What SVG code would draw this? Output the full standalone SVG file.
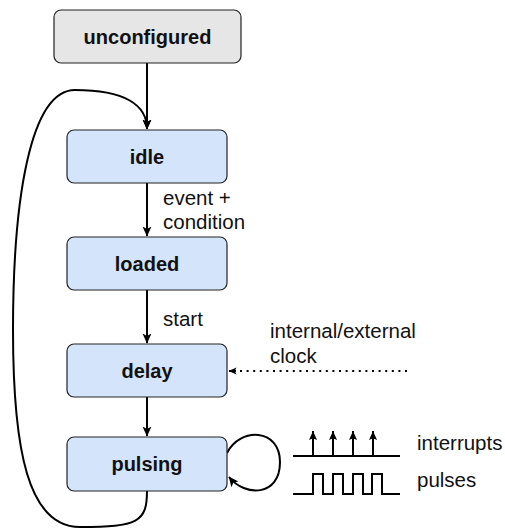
<svg xmlns="http://www.w3.org/2000/svg" width="505" height="529" viewBox="0 0 505 529">
<style>
.box{stroke:#222;stroke-width:1.2}
.blue{fill:#d4e4fb}
.gray{fill:#e6e6e6}
.nt{font-family:"Liberation Sans",Arial,sans-serif;font-size:20px;font-weight:bold;fill:#111;text-anchor:middle;dominant-baseline:central}
.lt{font-family:"Liberation Sans",Arial,sans-serif;font-size:20.5px;fill:#111}
.edge{fill:none;stroke:#000;stroke-width:2}
</style>
<defs>
<marker id="arr" viewBox="0 0 10 10" refX="9.5" refY="5" markerWidth="10" markerHeight="10" orient="auto" markerUnits="userSpaceOnUse">
<path d="M0,0.5 L10,5 L0,9.5 L2.5,5 z" fill="#000"/>
</marker>
<marker id="arrs" viewBox="0 0 10 10" refX="9.5" refY="5" markerWidth="8" markerHeight="8" orient="auto" markerUnits="userSpaceOnUse">
<path d="M0,0.5 L10,5 L0,9.5 L2.5,5 z" fill="#000"/>
</marker>
<marker id="tri" viewBox="0 0 10 10" refX="10" refY="5" markerWidth="10" markerHeight="9" orient="auto" markerUnits="userSpaceOnUse">
<path d="M0,0.5 L10,5 L0,9.5 L2,5 z" fill="#000"/>
</marker>
</defs>

<g id="connectors">
<path class="edge" d="M147,63 V129" marker-end="url(#arr)"/>
<path class="edge" d="M147,183 V236" marker-end="url(#arr)"/>
<path class="edge" d="M147,290 V343" marker-end="url(#arr)"/>
<path class="edge" d="M147,397 V436" marker-end="url(#arr)"/>
<path class="edge" d="M147,491 C147,522 138,527 80,527 C28,527 13,450 13,330 C13,200 30,90 75,90 C125,90 147,105 147,129" marker-end="url(#arr)"/>
<path class="edge" d="M227,453 C240,427 280,428 280,462 C280,497 245,497 229,477" marker-end="url(#arr)"/>
<path class="edge" d="M407,371 H236" stroke-dasharray="2 4.6"/>
<path class="edge" d="M236,371 H229" marker-end="url(#arrs)"/>
</g>

<g id="unconfigured">
<rect class="box gray" x="54" y="10" width="187" height="53" rx="7"/>
<text class="nt" x="147.5" y="37">unconfigured</text>
</g>
<g id="idle">
<rect class="box blue" x="67" y="130" width="160" height="53" rx="7"/>
<text class="nt" x="147" y="157">idle</text>
</g>
<g id="loaded">
<rect class="box blue" x="67" y="237" width="160" height="53" rx="7"/>
<text class="nt" x="147" y="264">loaded</text>
</g>
<g id="delay">
<rect class="box blue" x="67" y="344" width="160" height="53" rx="7"/>
<text class="nt" x="147" y="371">delay</text>
</g>
<g id="pulsing">
<rect class="box blue" x="67" y="437" width="160" height="54" rx="7"/>
<text class="nt" x="147" y="464">pulsing</text>
</g>

<g id="labels">
<text class="lt" x="163" y="205">event +</text>
<text class="lt" x="163" y="229">condition</text>
<text class="lt" x="163" y="326">start</text>
<text class="lt" x="270" y="338">internal/external</text>
<text class="lt" x="270" y="363">clock</text>
<text class="lt" x="417" y="450">interrupts</text>
<text class="lt" x="417" y="487">pulses</text>
</g>

<g id="legend">
<path class="edge" d="M293,456 H400"/>
<path class="edge" d="M313,456 V431" marker-end="url(#tri)"/>
<path class="edge" d="M333,456 V431" marker-end="url(#tri)"/>
<path class="edge" d="M353,456 V431" marker-end="url(#tri)"/>
<path class="edge" d="M373,456 V431" marker-end="url(#tri)"/>
<path class="edge" d="M293,494 H313 V474 H323 V494 H333 V474 H343 V494 H353 V474 H363 V494 H372 V474 H382 V494 H400"/>
</g>
</svg>
